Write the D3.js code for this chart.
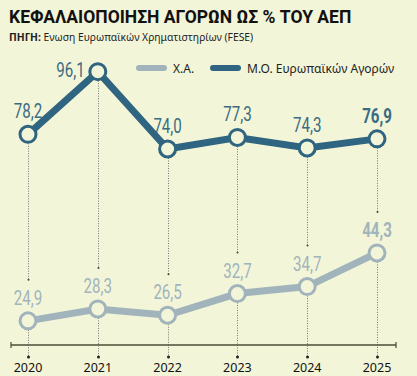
<!DOCTYPE html>
<html>
<head>
<meta charset="utf-8">
<script src="https://cdn.jsdelivr.net/npm/d3@7"></script>
<style>
  html, body { margin: 0; padding: 0; background: #f3f5d9; }
  svg { display: block; }
</style>
</head>
<body>
<svg id="chart" width="417" height="376"></svg>
<script>
const years = ['2020', '2021', '2022', '2023', '2024', '2025'];
const athens = [24.9, 28.3, 26.5, 32.7, 34.7, 44.3];
const europe = [78.2, 96.1, 74.0, 77.3, 74.3, 76.9];
const seriesNames = ['Χ.Α.', 'Μ.Ο. Ευρωπαϊκών Αγορών'];

const BG = '#f3f5d9';
const BLUE = '#2f6580';
const GRAY = '#a2b4bb';

const fmt = (v) => v.toFixed(1).replace('.', ',');

const svg = d3.select('#chart');

svg.append('text')
    .attr('x', 9).attr('y', 23)
    .attr('font-family', 'Roboto, sans-serif')
    .attr('font-weight', 'bold')
    .attr('font-size', 17.5)
    .attr('fill', '#111')
    .text('ΚΕΦΑΛΑΙΟΠΟΙΗΣΗ ΑΓΟΡΩΝ ΩΣ % ΤΟΥ ΑΕΠ');

const sub = svg.append('text')
    .attr('x', 9).attr('y', 41)
    .attr('font-family', '"Noto Sans", sans-serif')
    .attr('font-size', 10.3)
    .attr('fill', '#222');
sub.append('tspan').attr('font-weight', 'bold').text('ΠΗΓΗ: ');
sub.append('tspan').text('Ενωση Ευρωπαϊκών Χρηματιστηρίων (FESE)');

// legend
const legend = [
    { name: seriesNames[0], color: GRAY, x: 136 },
    { name: seriesNames[1], color: BLUE, x: 210 },
];
legend.forEach((d) => {
    svg.append('line')
        .attr('x1', d.x + 3).attr('x2', d.x + 28)
        .attr('y1', 68).attr('y2', 68)
        .attr('stroke', d.color).attr('stroke-width', 6)
        .attr('stroke-linecap', 'round');
    svg.append('text')
        .attr('x', d.x + 37).attr('y', 72.5)
        .attr('font-family', '"Noto Sans", sans-serif')
        .attr('font-size', 12)
        .attr('fill', '#222')
        .text(d.name);
});

const x = d3.scalePoint().domain(years).range([28, 377]);
const y = d3.scaleLinear().domain([20, 100]).range([338, 58]);

// axis
const axisY = 345;
svg.append('line')
    .attr('x1', 11).attr('x2', 396)
    .attr('y1', axisY).attr('y2', axisY)
    .attr('stroke', '#4b4b33').attr('stroke-width', 1.5);
[11, 396].forEach((px) => {
    svg.append('line')
        .attr('x1', px).attr('x2', px)
        .attr('y1', axisY - 3).attr('y2', axisY + 3)
        .attr('stroke', '#4b4b33').attr('stroke-width', 1.2);
});

svg.selectAll('.year')
    .data(years)
    .enter()
    .append('text')
    .attr('x', (d) => x(d))
    .attr('y', 372)
    .attr('text-anchor', 'middle')
    .attr('font-family', '"Noto Sans", sans-serif')
    .attr('font-size', 12.5)
    .attr('fill', '#111')
    .text((d) => d);

// dotted guide lines
const guides = years.map((yr, i) => ({ yr, top: europe[i], bottom: athens[i] }));
const dotted = svg.append('g')
    .attr('stroke', '#555')
    .attr('stroke-width', 0.8)
    .attr('stroke-dasharray', '1,1.5');
guides.forEach((d) => {
    const gx = Math.round(x(d.yr)) + 0.5;
    const endTop = y(d.bottom) - 16 - 17 - 8;
    dotted.append('line')
        .attr('x1', gx).attr('x2', gx)
        .attr('y1', y(d.top) + 9).attr('y2', endTop);
    dotted.append('line')
        .attr('x1', gx).attr('x2', gx)
        .attr('y1', y(d.bottom) + 9).attr('y2', 356);
    svg.append('circle').attr('cx', gx).attr('cy', endTop).attr('r', 1).attr('fill', '#444');
    svg.append('circle').attr('cx', gx).attr('cy', 357).attr('r', 1.5).attr('fill', '#222');
});

function drawSeries(values, color) {
    const data = years.map((yr, i) => ({ yr, v: values[i], last: i === years.length - 1 }));
    const line = d3.line().x((d) => x(d.yr)).y((d) => y(d.v));
    svg.append('path')
        .datum(data)
        .attr('fill', 'none')
        .attr('stroke', color)
        .attr('stroke-width', 7)
        .attr('stroke-linejoin', 'miter')
        .attr('d', line);
    svg.selectAll(null)
        .data(data)
        .enter()
        .append('circle')
        .attr('cx', (d) => x(d.yr))
        .attr('cy', (d) => y(d.v))
        .attr('r', 8)
        .attr('fill', BG)
        .attr('stroke', color)
        .attr('stroke-width', 3);
    return data;
}

const grayData = drawSeries(athens, GRAY);
const blueData = drawSeries(europe, BLUE);

function labels(data, color) {
    const isBlue = color === BLUE;
    svg.selectAll(null)
        .data(data)
        .enter()
        .append('text')
        .attr('transform', (d, i) => {
            const lx = isBlue && i === 1 ? x(d.yr) - 13 : x(d.yr);
            const ly = isBlue && i === 1 ? y(d.v) + 5 : y(d.v) - 16;
            return `translate(${lx},${ly}) scale(0.72,1)`;
        })
        .attr('text-anchor', (d, i) => (isBlue && i === 1 ? 'end' : 'middle'))
        .attr('font-family', 'Roboto, sans-serif')
        .attr('font-size', 21)
        .attr('font-weight', (d) => (d.last ? 'bold' : 'normal'))
        .attr('fill', isBlue ? '#3a6c81' : GRAY)
        .text((d) => fmt(d.v));
}
labels(grayData, GRAY);
labels(blueData, BLUE);
</script>
</body>
</html>
